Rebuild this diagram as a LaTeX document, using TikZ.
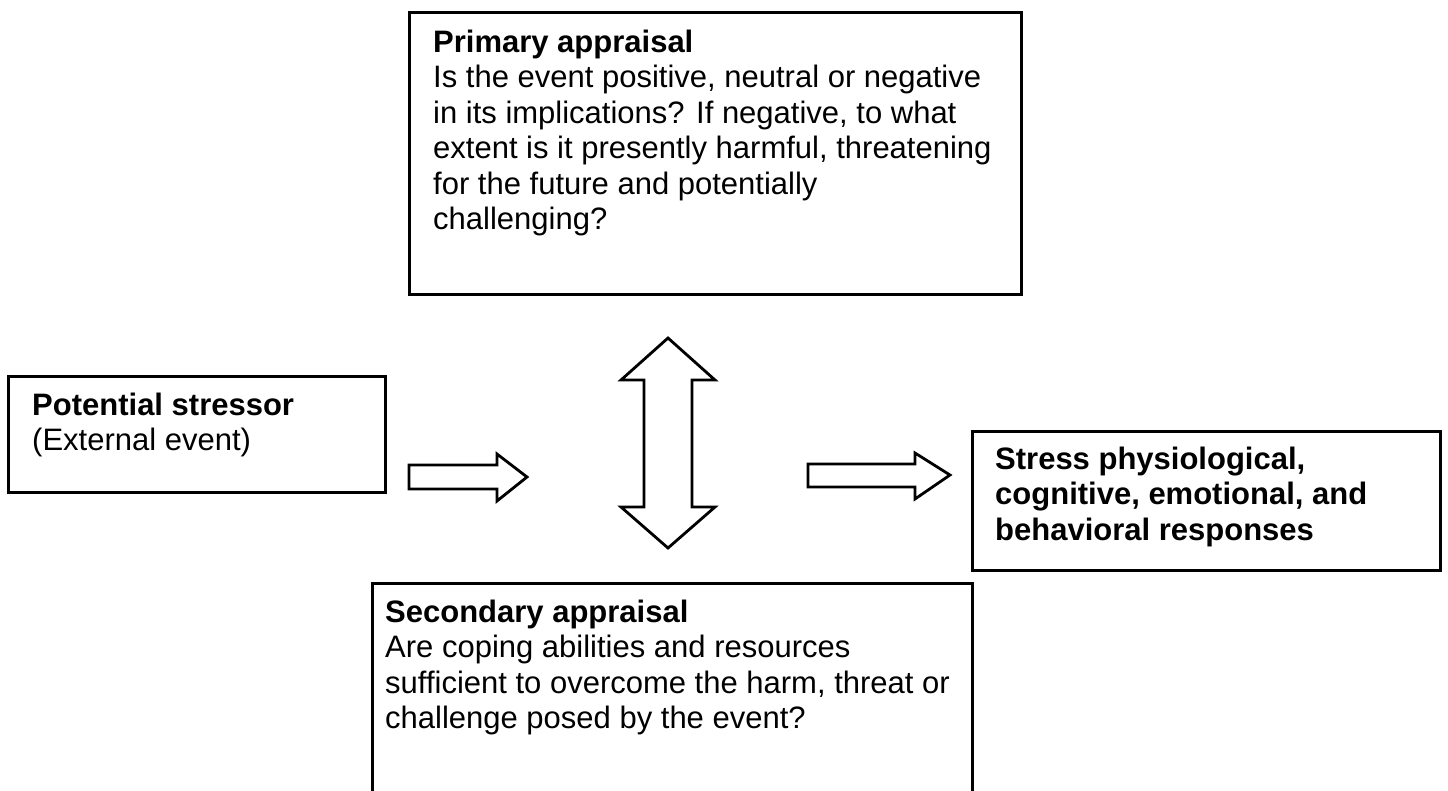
\documentclass[tikz,border=0pt]{standalone}
\usepackage{fontspec}
\setmainfont{Liberation Sans}
\begin{document}
\begin{tikzpicture}[x=1pt,y=-1pt,
  box/.style={draw=black, line width=3pt, fill=white, inner sep=0pt, outer sep=0pt, anchor=north west},
  txt/.style={anchor=base west, align=left, inner sep=0pt, font=\fontsize{31}{35.5}\selectfont},
  blockarrow/.style={draw=black, line width=2.8pt, fill=white, line join=miter}]
\useasboundingbox (0,0) rectangle (1448,790);
\clip (0,0) rectangle (1448,790);
% boxes
\node[box, minimum width=612pt, minimum height=282pt] (prim) at (409,12) {};
\node[box, minimum width=377pt, minimum height=116pt] (stressor) at (8,376) {};
\node[box, minimum width=468pt, minimum height=139pt] (resp) at (972,431) {};
\node[box, minimum width=600pt, minimum height=260pt] (sec) at (372,583) {};
% texts (anchored at the baseline of the last line)
\node[txt] (primtxt) at (433,229.5) {\textbf{Primary appraisal}\\Is the event positive, neutral or negative\\in its implications? If negative, to what\\extent is it presently harmful, threatening\\for the future and potentially\\challenging?};
\node[txt] (stressortxt) at (32,450.5) {\textbf{Potential stressor}\\(External event)};
\node[txt, font=\fontsize{31}{35.5}\selectfont\bfseries] (resptxt) at (995,540) {Stress physiological,\\cognitive, emotional, and\\behavioral responses};
\node[txt] (sectxt) at (385,728.5) {\textbf{Secondary appraisal}\\Are coping abilities and resources\\sufficient to overcome the harm, threat or\\challenge posed by the event?};
% block arrows
\coordinate (a1) at (409,453);
\coordinate (a2) at (808,453);
\draw[blockarrow] ([yshift=-12pt]a1) -- ++(88,0) -- ++(0,-11) -- ++(30,23) -- ++(-30,24) -- ++(0,-12) -- ++(-88,0) -- cycle;
\draw[blockarrow] ([yshift=-11pt]a2) -- ++(107,0) -- ++(0,-11) -- ++(35,22) -- ++(-35,24) -- ++(0,-12) -- ++(-107,0) -- cycle;
\draw[blockarrow] (644,380) -- (621,380) -- (668,338) -- (715,380) -- (692,380) -- (692,507) -- (715,507) -- (668,548) -- (621,507) -- (644,507) -- cycle;
\end{tikzpicture}
\end{document}
